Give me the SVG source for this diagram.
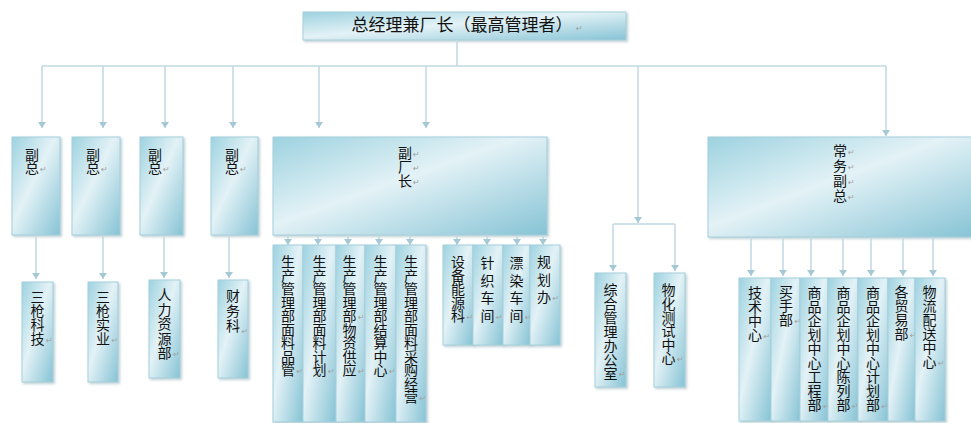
<svg xmlns="http://www.w3.org/2000/svg" width="971" height="423" viewBox="0 0 971 423">
<defs>
<linearGradient id="g" x1="0" y1="0" x2="1" y2="1">
<stop offset="0" stop-color="#9dd2e0"/>
<stop offset="0.45" stop-color="#e3f2f6"/>
<stop offset="1" stop-color="#86c3d5"/>
</linearGradient>
<filter id="sh" x="-10%" y="-10%" width="130%" height="130%">
<feDropShadow dx="1.5" dy="1.5" stdDeviation="1.2" flood-color="#6f95a1" flood-opacity="0.45"/>
</filter>
<marker id="ah" markerUnits="userSpaceOnUse" markerWidth="7" markerHeight="8" refX="6" refY="4" orient="auto">
<path d="M0,0 L6,4 L0,8 z" fill="#a5c9d4"/>
</marker>
<style>
.b{fill:url(#g);stroke:#a6cfdb;stroke-width:1;filter:url(#sh)}
.t{font-family:"Noto Sans CJK SC","Noto Sans CJK TC",sans-serif;font-size:14px;fill:#111}
.v{writing-mode:vertical-rl;letter-spacing:0}
.r{font-family:"DejaVu Sans",sans-serif;font-size:8px;fill:#a0a0a0}
.c{fill:none;stroke:#c0d9e0;stroke-width:1.5}
.a{marker-end:url(#ah)}
</style>
</defs>

<g id="gm-top">
<rect class="b" x="303" y="12" width="323" height="28"/>
<text class="t" x="462" y="31" text-anchor="middle" style="font-size:17px">总经理兼厂长（最高管理者）</text>
<text class="r" x="576" y="31">↵</text>
</g>

<g id="vp1">
<rect class="b" x="12" y="137" width="48" height="98"/>
<text class="t v" x="32" y="148" style="letter-spacing:-1px">副总</text>
<text class="r" x="40" y="172">↵</text>
</g>
<g id="vp2">
<rect class="b" x="72" y="137" width="48" height="98"/>
<text class="t v" x="93" y="148" style="letter-spacing:-1px">副总</text>
<text class="r" x="101" y="172">↵</text>
</g>
<g id="vp3">
<rect class="b" x="140" y="137" width="43" height="98"/>
<text class="t v" x="155" y="148" style="letter-spacing:-1px">副总</text>
<text class="r" x="163" y="172">↵</text>
</g>
<g id="vp4">
<rect class="b" x="211" y="137" width="47" height="98"/>
<text class="t v" x="232" y="148" style="letter-spacing:-1px">副总</text>
<text class="r" x="240" y="172">↵</text>
</g>
<g id="vfm">
<rect class="b" x="273" y="137" width="274" height="98"/>
<text class="t v" x="405" y="146">副厂长</text>
<text class="r" x="413" y="157">↵</text>
<text class="r" x="413" y="171">↵</text>
<text class="r" x="413" y="185">↵</text>
</g>
<g id="evp">
<rect class="b" x="708" y="137" width="268" height="100"/>
<text class="t v" x="840" y="144" style="letter-spacing:1px">常务副总</text>
<text class="r" x="848" y="155">↵</text>
<text class="r" x="848" y="170">↵</text>
<text class="r" x="848" y="185">↵</text>
<text class="r" x="848" y="200">↵</text>
</g>

<g id="c1">
<rect class="b" x="22" y="282" width="31" height="100"/>
<text class="t v" x="37.5" y="290">三枪科技</text>
<text class="r" x="46" y="343">↵</text>
</g>
<g id="c2">
<rect class="b" x="88" y="282" width="30" height="100"/>
<text class="t v" x="103" y="290">三枪实业</text>
<text class="r" x="111.5" y="343">↵</text>
</g>
<g id="c3">
<rect class="b" x="149" y="280" width="31" height="98"/>
<text class="t v" x="164.5" y="288" style="letter-spacing:0.5px">人力资源部</text>
<text class="r" x="173" y="357">↵</text>
</g>
<g id="c4">
<rect class="b" x="218" y="280" width="30" height="98"/>
<text class="t v" x="233" y="289" style="letter-spacing:1px">财务科</text>
<text class="r" x="241.5" y="334">↵</text>
</g>

<g id="m1">
<rect class="b" x="273" y="245" width="30" height="177"/>
<text class="t v" x="288" y="255" style="letter-spacing:-0.5px">生产管理部面料品管</text>
<text class="r" x="296.5" y="374">↵</text>
</g>
<g id="m2">
<rect class="b" x="303" y="245" width="33" height="177"/>
<text class="t v" x="319.5" y="255" style="letter-spacing:-0.5px">生产管理部面料计划</text>
<text class="r" x="328" y="374">↵</text>
</g>
<g id="m3">
<rect class="b" x="336" y="245" width="29" height="177"/>
<text class="t v" x="349.5" y="255" style="letter-spacing:-0.5px">生产管理部物资供应</text>
<text class="r" x="358" y="320">↵</text>
<text class="r" x="358" y="374">↵</text>
</g>
<g id="m4">
<rect class="b" x="365" y="245" width="31" height="177"/>
<text class="t v" x="380.5" y="255" style="letter-spacing:-0.5px">生产管理部结算中心</text>
<text class="r" x="389" y="374">↵</text>
</g>
<g id="m5">
<rect class="b" x="396" y="245" width="30" height="177"/>
<text class="t v" x="411" y="255" style="letter-spacing:-0.5px">生产管理部面料采购经营</text>
<text class="r" x="419.5" y="401">↵</text>
</g>
<g id="m6">
<rect class="b" x="443" y="245" width="30" height="100"/>
<text class="t v" x="458" y="255" style="letter-spacing:-0.5px">设备能源科</text>
<text class="r" x="466.5" y="320">↵</text>
</g>
<g id="m7">
<rect class="b" x="473" y="245" width="30" height="100"/>
<text class="t v" x="487.5" y="256" style="letter-spacing:3.5px">针织车间</text>
<text class="r" x="496" y="319.5">↵</text>
</g>
<g id="m8">
<rect class="b" x="503" y="245" width="27" height="100"/>
<text class="t v" x="516.5" y="256" style="letter-spacing:3.5px">漂染车间</text>
<text class="r" x="525" y="319.5">↵</text>
</g>
<g id="m9">
<rect class="b" x="530" y="245" width="30" height="100"/>
<text class="t v" x="544" y="255" style="letter-spacing:3.5px">规划办</text>
<text class="r" x="552.5" y="301">↵</text>
</g>

<g id="o1">
<rect class="b" x="595" y="273" width="31" height="114"/>
<text class="t v" x="610.5" y="283" style="letter-spacing:-0.1px">综合管理办公室</text>
<text class="r" x="619" y="377">↵</text>
</g>
<g id="o2">
<rect class="b" x="654" y="273" width="31" height="114"/>
<text class="t v" x="668.5" y="283" style="letter-spacing:-0.4px">物化测试中心</text>
<text class="r" x="677" y="362">↵</text>
</g>

<g id="r1">
<rect class="b" x="739" y="278" width="32" height="143"/>
<text class="t v" x="755" y="286">技术中心</text>
<text class="r" x="763.5" y="339">↵</text>
</g>
<g id="r2">
<rect class="b" x="771" y="278" width="29" height="143"/>
<text class="t v" x="786" y="285">买手部</text>
<text class="r" x="794.5" y="324">↵</text>
</g>
<g id="r3">
<rect class="b" x="800" y="278" width="28" height="143"/>
<text class="t v" x="814.5" y="286">商品企划中心工程部</text>
<text class="r" x="823" y="409">↵</text>
</g>
<g id="r4">
<rect class="b" x="828" y="278" width="30" height="143"/>
<text class="t v" x="843.5" y="286">商品企划中心陈列部</text>
<text class="r" x="852" y="409">↵</text>
</g>
<g id="r5">
<rect class="b" x="858" y="278" width="30" height="143"/>
<text class="t v" x="873" y="286">商品企划中心计划部</text>
<text class="r" x="881.5" y="409">↵</text>
</g>
<g id="r6">
<rect class="b" x="888" y="278" width="27" height="143"/>
<text class="t v" x="901.5" y="285">各贸易部</text>
<text class="r" x="910" y="338">↵</text>
</g>
<g id="r7">
<rect class="b" x="915" y="278" width="30" height="143"/>
<text class="t v" x="929.5" y="285">物流配送中心</text>
<text class="r" x="938" y="366">↵</text>
</g>

<g id="connectors">
<path class="c" d="M457,40 V66 M42,66 H886 M613,224 H675"/>
<path class="c a" d="M42,66 V128"/>
<path class="c a" d="M103,66 V128"/>
<path class="c a" d="M165,66 V128"/>
<path class="c a" d="M233,66 V128"/>
<path class="c a" d="M319,66 V128"/>
<path class="c a" d="M426,66 V128"/>
<path class="c a" d="M886,66 V136"/>
<path class="c a" d="M638,66 V223"/>
<path class="c a" d="M613,224 V271"/>
<path class="c a" d="M675,224 V271"/>
<path class="c a" d="M36,235 V279"/>
<path class="c a" d="M103,235 V279"/>
<path class="c a" d="M164,235 V278"/>
<path class="c a" d="M229,235 V278"/>
<path class="c a" d="M288,235 V245"/>
<path class="c a" d="M318,235 V245"/>
<path class="c a" d="M348,235 V245"/>
<path class="c a" d="M379,235 V245"/>
<path class="c a" d="M410,235 V245"/>
<path class="c a" d="M457,235 V245"/>
<path class="c a" d="M487,235 V245"/>
<path class="c a" d="M517,235 V245"/>
<path class="c a" d="M543,235 V245"/>
<path class="c a" d="M751,237 V276"/>
<path class="c a" d="M783,237 V276"/>
<path class="c a" d="M811,237 V276"/>
<path class="c a" d="M843,237 V276"/>
<path class="c a" d="M871,237 V276"/>
<path class="c a" d="M903,237 V276"/>
<path class="c a" d="M933,237 V276"/>
</g>
</svg>
